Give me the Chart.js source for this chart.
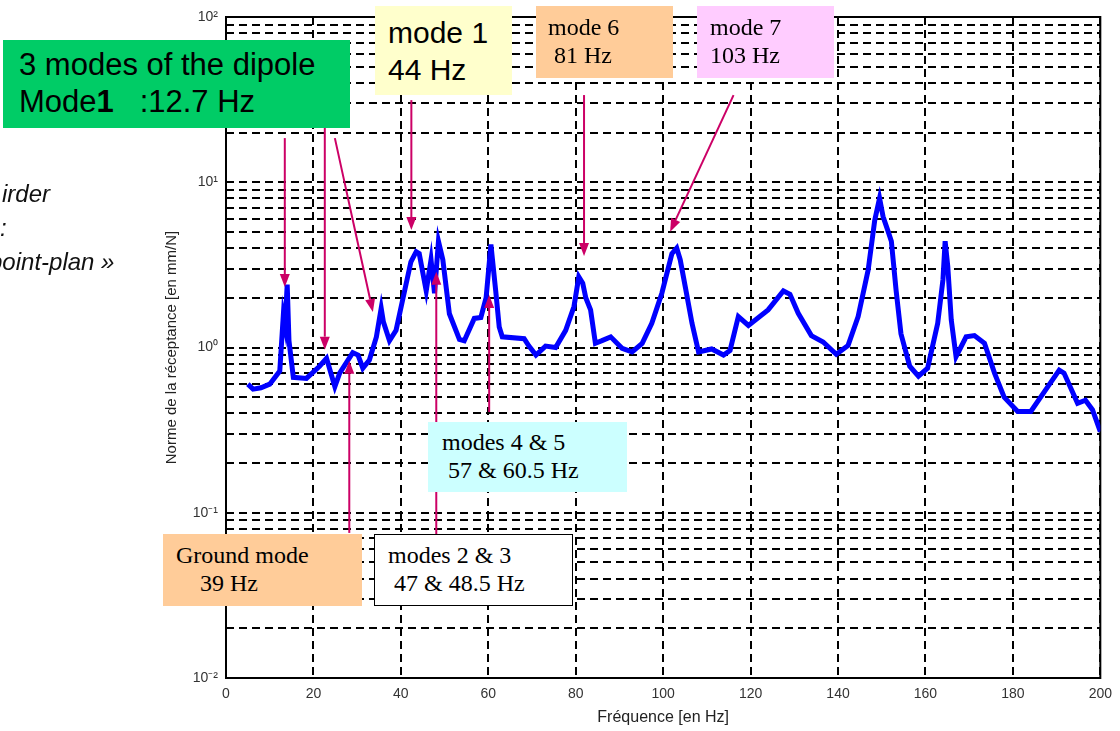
<!DOCTYPE html>
<html>
<head>
<meta charset="utf-8">
<title>Réceptance</title>
<script src="https://cdn.jsdelivr.net/npm/chart.js@4.4.1/dist/chart.umd.min.js"></script>
<style>
  html, body { margin: 0; padding: 0; background: #fff; }
  body { width: 1120px; height: 731px; position: relative; overflow: hidden; font-family: "Liberation Sans", Arial, sans-serif; }
  #chart { position: absolute; left: 0; top: 0; }
  .box { position: absolute; box-sizing: border-box; white-space: pre; color: #000; }
  .big { font-family: "Liberation Sans", Arial, sans-serif; }
  .serif { font-family: "Liberation Serif", "Times New Roman", serif; font-size: 24px; line-height: 28px; }
  .side { position: absolute; font-style: italic; font-size: 24px; line-height: 34px; white-space: pre; color: #111; }
</style>
</head>
<body>
<canvas id="chart" width="1120" height="731"></canvas>

<!-- texte de la diapo, coupé à gauche -->
<div class="side" style="left:2px; top:177px;">irder</div>
<div class="side" style="left:0px; top:211px;">:</div>
<div class="side" style="left:-11px; top:245px;">point-plan »</div>

<!-- étiquettes des modes -->
<div class="box big" style="left:3px; top:40px; width:347px; height:88px; background:#00cc66; font-size:31px; line-height:37px; padding:6px 0 0 16px;">3 modes of the dipole
Mode<b>1</b>   :12.7 Hz</div>
<div class="box big" style="left:375px; top:6px; width:137px; height:89px; background:#ffffcc; font-size:30px; line-height:37px; padding:8px 0 0 13px;">mode 1
44 Hz</div>
<div class="box serif" style="left:536px; top:6px; width:137px; height:72px; background:#ffcc99; padding:7px 0 0 12px;">mode 6
 81 Hz</div>
<div class="box serif" style="left:697px; top:6px; width:137px; height:72px; background:#ffccff; padding:7px 0 0 13px;">mode 7
103 Hz</div>
<div class="box serif" style="left:428px; top:422px; width:199px; height:70px; background:#ccffff; padding:6px 0 0 14px;">modes 4 &amp; 5
 57 &amp; 60.5 Hz</div>
<div class="box serif" style="left:163px; top:534px; width:199px; height:72px; background:#ffcc99; padding:7px 0 0 13px;">Ground mode
    39 Hz</div>
<div class="box serif" style="left:374px; top:534px; width:199px; height:72px; background:#fff; border:1px solid #000; padding:6px 0 0 13px;">modes 2 &amp; 3
 47 &amp; 48.5 Hz</div>

<script>
// Données (fréquence en Hz, norme de la réceptance en mm/N)
const freqHz = [5, 6.2, 8, 10, 12.3, 13.1, 13.5, 14, 14.4, 15.4, 18.4, 21.4, 23, 24.9, 26, 29, 30.2, 31.3, 32.8, 34.4,
  35.5, 36, 37.4, 38.9, 40.4, 42.3, 43.5, 44.2, 45.8, 46.9, 47.7, 48.6, 49.6, 51.1, 53.4, 54.5, 56.8, 58.3, 59.5, 60.6,
  61.7, 62.5, 63.2, 68.2, 69.3, 70.9, 73.1, 75.4, 77.7, 79.6, 80.7, 81.6, 82.3, 83.4, 84.5, 86, 88, 90.6, 92.9, 95.2,
  97.4, 99.7, 102, 103.1, 103.9, 105.1, 106.6, 108.1, 111.1, 113.8, 115.3, 117.2, 119.5, 124, 127.5, 129, 130.9, 133.9, 136.6, 139.6,
  142.3, 144.6, 146.9, 148.4, 149.5, 150.3, 151.4, 152.2, 153.3, 154.4, 156.4, 158.4, 160.5, 162.8, 164, 164.5, 165.1, 165.9, 167, 169.3,
  171.2, 173.5, 175.8, 178, 181.1, 184.1, 188, 190.6, 191.7, 194.8, 196.6, 198.2, 200];
const receptance = [0.6, 0.56, 0.57, 0.6, 0.72, 1.55, 1.35, 2.4, 1.1, 0.66, 0.65, 0.77, 0.86, 0.58, 0.7, 0.93, 0.9, 0.75, 0.84, 1.16,
  1.73, 1.43, 1.1, 1.27, 1.94, 3.3, 3.8, 3.7, 2.2, 3.4, 2.13, 4.4, 3.4, 1.6, 1.12, 1.1, 1.5, 1.52, 2.0, 4.2,
  2.2, 1.33, 1.16, 1.13, 1.02, 0.9, 1.02, 1.0, 1.27, 1.77, 2.68, 2.45, 2.0, 1.69, 1.06, 1.1, 1.16, 0.99, 0.94, 1.06,
  1.4, 2.13, 3.7, 4.0, 3.4, 2.3, 1.4, 0.94, 0.98, 0.9, 0.96, 1.54, 1.36, 1.69, 2.2, 2.1, 1.61, 1.18, 1.08, 0.91,
  1.03, 1.54, 2.95, 5.9, 8.0, 6.2, 5.1, 4.4, 2.2, 1.21, 0.77, 0.67, 0.75, 1.4, 2.57, 4.4, 3.1, 1.47, 0.88, 1.16,
  1.18, 1.06, 0.7, 0.5, 0.41, 0.41, 0.58, 0.73, 0.7, 0.46, 0.48, 0.42, 0.31];

const xTicks = [0, 20, 40, 60, 80, 100, 120, 140, 160, 180, 200];
const yDecades = [0.01, 0.1, 1, 10, 100];
const yTickLabels = ['10⁻²', '10⁻¹', '10⁰', '10¹', '10²'];
const yMinor = [1, 2, 3, 4, 5, 6, 7, 8, 9];

// flèches des étiquettes (départ -> pointe), en Hz et mm/N
const arrowFromHz = [13.45, 22.6, 24.9, 42.4, 81.9, 116.1, 28.2, 48.1, 60.2];
const arrowFromVal = [18.5, 21.3, 18.5, 31.4, 33.7, 33.7, 0.0755, 0.0743, 0.407];
const arrowToHz = [13.45, 22.6, 33.6, 42.4, 81.9, 101.6, 28.2, 48.1, 60.2];
const arrowToVal = [2.32, 0.97, 1.64, 5.14, 3.58, 5.02, 0.83, 2.87, 2.08];

const yGridValues = [];
yDecades.forEach((d) => {
  if (d === 100) { yGridValues.push(d); return; }
  yMinor.forEach((m) => yGridValues.push(m === 1 ? d : d * m));
});

const points = freqHz.map((f, i) => ({ x: f, y: receptance[i] }));

// cadre noir autour du graphique
const framePlugin = {
  id: 'frame',
  beforeDatasetsDraw(chart) {
    const { ctx, chartArea: a } = chart;
    ctx.save();
    ctx.strokeStyle = '#000';
    ctx.lineWidth = 2;
    ctx.strokeRect(a.left, a.top, a.right - a.left, a.bottom - a.top);
    ctx.restore();
  }
};

// flèches magenta
const arrowPlugin = {
  id: 'arrows',
  afterDatasetsDraw(chart) {
    const { ctx, scales } = chart;
    ctx.save();
    ctx.strokeStyle = '#cc0066';
    ctx.fillStyle = '#cc0066';
    ctx.lineWidth = 2;
    arrowFromHz.forEach((f, i) => {
      const x1 = scales.x.getPixelForValue(f);
      const y1 = scales.y.getPixelForValue(arrowFromVal[i]);
      const x2 = scales.x.getPixelForValue(arrowToHz[i]);
      const y2 = scales.y.getPixelForValue(arrowToVal[i]);
      const ang = Math.atan2(y2 - y1, x2 - x1);
      const len = 13, half = 5;
      const bx = x2 - len * Math.cos(ang);
      const by = y2 - len * Math.sin(ang);
      ctx.beginPath();
      ctx.moveTo(x1, y1);
      ctx.lineTo(bx, by);
      ctx.stroke();
      ctx.beginPath();
      ctx.moveTo(x2, y2);
      ctx.lineTo(bx + half * Math.sin(ang), by - half * Math.cos(ang));
      ctx.lineTo(bx - half * Math.sin(ang), by + half * Math.cos(ang));
      ctx.closePath();
      ctx.fill();
    });
    ctx.restore();
  }
};

Chart.defaults.font.family = '"Liberation Sans", Arial, sans-serif';

new Chart(document.getElementById('chart'), {
  type: 'line',
  data: {
    datasets: [{
      data: points,
      borderColor: '#0000ff',
      borderWidth: 5,
      pointRadius: 0,
      tension: 0,
      fill: false
    }]
  },
  options: {
    responsive: false,
    devicePixelRatio: 1,
    animation: false,
    layout: { padding: { left: 0, right: 18, top: 17, bottom: 0 } },
    plugins: { legend: { display: false }, tooltip: { enabled: false } },
    scales: {
      x: {
        type: 'linear',
        min: 0,
        max: 200,
        afterBuildTicks: (s) => { s.ticks = xTicks.map((v) => ({ value: v })); },
        afterFit: (s) => { s.height = 53; },
        ticks: { autoSkip: false, maxRotation: 0, padding: 8, color: '#333', font: { size: 14 } },
        grid: { color: '#000', lineWidth: 2, drawTicks: false },
        border: { display: false, dash: [8, 5] },
        title: { display: true, text: 'Fréquence [en Hz]', color: '#222', font: { size: 16 }, padding: { top: 0, bottom: 4 } }
      },
      y: {
        type: 'logarithmic',
        min: 0.01,
        max: 100,
        afterBuildTicks: (s) => { s.ticks = yGridValues.map((v) => ({ value: v })); },
        afterFit: (s) => { s.width = 226; },
        ticks: {
          autoSkip: false,
          padding: 8,
          color: '#333',
          font: { size: 14 },
          callback: (v) => {
            const i = yDecades.indexOf(v);
            return i >= 0 ? yTickLabels[i] : '';
          }
        },
        grid: { color: '#000', lineWidth: 2, drawTicks: false },
        border: { display: false, dash: [8, 5] },
        title: { display: true, text: 'Norme de la réceptance [en mm/N]', color: '#222', font: { size: 15 }, padding: { top: 163, bottom: 0 } }
      }
    }
  },
  plugins: [framePlugin, arrowPlugin]
});
</script>
</body>
</html>
